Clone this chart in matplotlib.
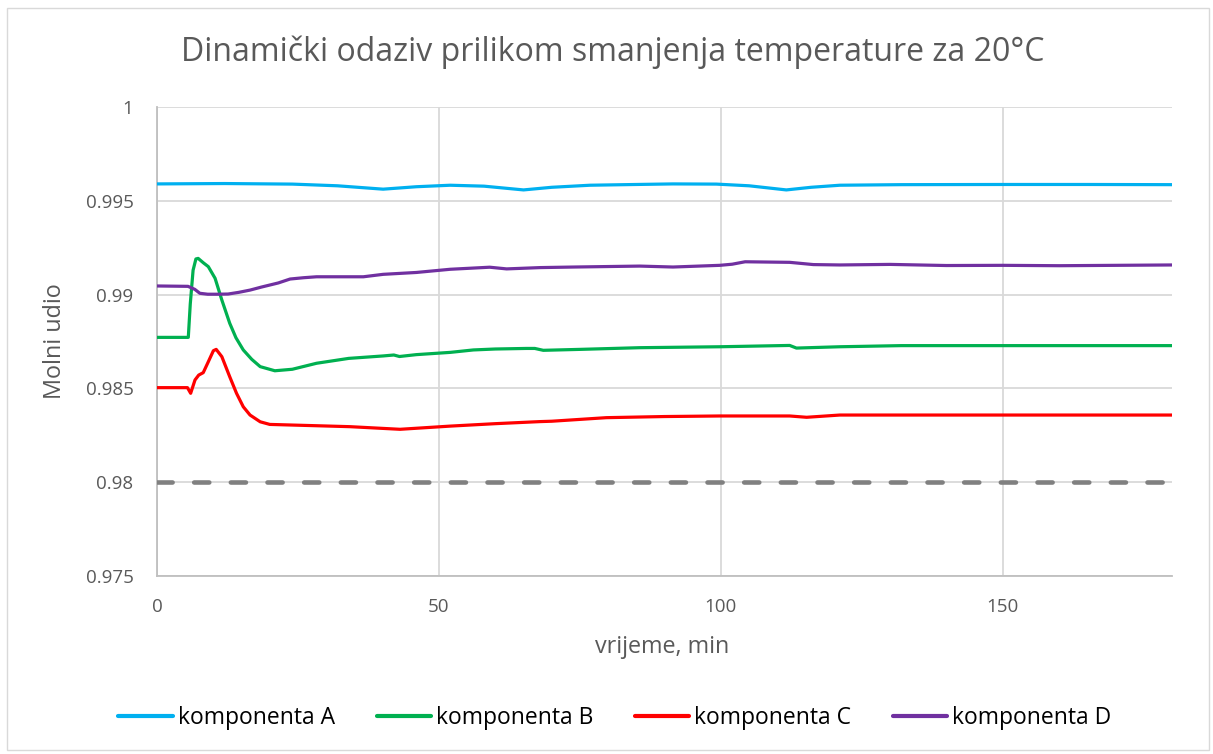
import matplotlib
matplotlib.use("Agg")
import matplotlib.pyplot as plt
from matplotlib.patches import Rectangle

plt.rcParams['font.family'] = ['Open Sans', 'DejaVu Sans']

# ---- data ----
t_A = [0, 12, 24, 32, 40.1, 46, 52, 58, 65, 70, 76.8, 85, 91.5, 99.2, 105, 111.6, 116,
       121.1, 132, 150, 165, 180]
v_A = [0.99590, 0.99592, 0.99589, 0.99580, 0.99562, 0.99575, 0.99583, 0.99578, 0.99558,
       0.99572, 0.99583, 0.99587, 0.99590, 0.99589, 0.99580, 0.99558, 0.99572, 0.99583,
       0.99586, 0.99587, 0.99587, 0.99586]

t_B = [0, 5.55, 5.9, 6.4, 6.9, 7.3, 8.2, 9.1, 10.3, 11.5, 12.9, 14, 15.3, 16.8, 18.3, 20.9,
       24, 28.3, 34, 40.1, 42, 43, 46, 52, 56.1, 60, 65.5, 67, 68.5, 75, 85.6, 99.8, 112.2,
       113.4, 121.1, 132, 150, 180]
v_B = [0.98772, 0.98772, 0.98950, 0.99130, 0.99190, 0.99193, 0.99170, 0.99149, 0.99087,
       0.98971, 0.98847, 0.98770, 0.98705, 0.98655, 0.98616, 0.98594, 0.98602, 0.98634,
       0.98660, 0.98673, 0.98678, 0.98670, 0.98680, 0.98692, 0.98705, 0.98710, 0.98713,
       0.98713, 0.98703, 0.98708, 0.98717, 0.98722, 0.98729, 0.98715, 0.98722, 0.98728,
       0.98728, 0.98728]

t_C = [0, 5.4, 5.97, 6.74, 7.4, 8.2, 9.1, 10.0, 10.5, 11.5, 12.9, 14.1, 15.3, 16.5, 18.3,
       20, 28.3, 34.2, 43.1, 52, 60, 67.9, 70, 79.7, 90, 99.8, 112.2, 115.2, 121.1, 125.2,
       150, 180]
v_C = [0.98504, 0.98504, 0.98474, 0.98545, 0.98571, 0.98584, 0.98642, 0.98701, 0.98708,
       0.98669, 0.98562, 0.98474, 0.98402, 0.98358, 0.98322, 0.98308, 0.98301, 0.98296,
       0.98282, 0.98299, 0.98312, 0.98323, 0.98325, 0.98344, 0.98350, 0.98353, 0.98353,
       0.98346, 0.98358, 0.98358, 0.98358, 0.98358]

t_D = [0, 5.5, 6.7, 7.6, 9, 10.6, 12.6, 14.5, 16.5, 18.5, 20, 21.5, 23.6, 26, 28.3, 36.6,
       40.1, 46, 52, 59, 62, 68, 74, 85.6, 91.5, 99.8, 102, 104.3, 112.2, 116.4, 121.1, 130,
       140, 150, 160, 180]
v_D = [0.99046, 0.99044, 0.99028, 0.99007, 0.99002, 0.99002, 0.99003, 0.99012, 0.99024,
       0.99040, 0.99051, 0.99062, 0.99083, 0.99090, 0.99095, 0.99095, 0.99108, 0.99118,
       0.99135, 0.99146, 0.99137, 0.99144, 0.99147, 0.99152, 0.99147, 0.99156, 0.99162,
       0.99175, 0.99172, 0.99160, 0.99158, 0.99161, 0.99155, 0.99156, 0.99154, 0.99158]

limit_t = [0, 180]
limit_v = [0.98, 0.98]

series_names = ['komponenta A', 'komponenta B', 'komponenta C', 'komponenta D']
series_colors = ['#00B0F0', '#00B050', '#FF0000', '#7030A0']

x_ticks = [0, 50, 100, 150]
y_ticks = [0.975, 0.98, 0.985, 0.99, 0.995, 1.0]
y_ticklabels = ['0.975', '0.98', '0.985', '0.99', '0.995', '1']

title = 'Dinamički odaziv prilikom smanjenja temperature za 20°C'
xlabel = 'vrijeme, min'
ylabel = 'Molni udio'

# ---- figure ----
W, H = 1213, 754
fig = plt.figure(figsize=(W / 100, H / 100), dpi=100)
fig.patches.append(Rectangle((7 / W, 4 / H), (W - 11) / W, (H - 12) / H,
                             transform=fig.transFigure, fill=False,
                             edgecolor='#D9D9D9', linewidth=1.0))

ax = fig.add_axes([157 / W, 1 - 576 / H, (1172 - 157) / W, (576 - 107) / H])

txt = '#595959'
grid_c = '#D9D9D9'

ax.plot(limit_t, limit_v, color='#808080', lw=3.3, dashes=(3.3, 4.7),
        dash_capstyle='round', zorder=3)
for t, v, name, c in zip([t_A, t_B, t_C, t_D], [v_A, v_B, v_C, v_D],
                         series_names, series_colors):
    ax.plot(t, v, color=c, lw=2.3, label=name, zorder=4,
            solid_joinstyle='round', solid_capstyle='butt')

ax.set_xlim(0, 180)
ax.set_ylim(0.975, 1.0)
ax.set_xticks(x_ticks)
ax.set_xticklabels([str(x) for x in x_ticks])
ax.set_yticks(y_ticks)
ax.set_yticklabels(y_ticklabels)
ax.tick_params(axis='both', length=0, labelsize=13.5, colors=txt)
ax.tick_params(axis='x', pad=16)
ax.tick_params(axis='y', pad=17)

ax.grid(True, color=grid_c, lw=1.3, zorder=0)
ax.set_axisbelow(True)
for s in ['top', 'right']:
    ax.spines[s].set_visible(False)
for s in ['left', 'bottom']:
    ax.spines[s].set_color('#BFBFBF')
    ax.spines[s].set_linewidth(1.3)

ax.set_xlabel(xlabel, fontsize=16.8, color=txt)
ax.xaxis.set_label_coords((662 - 157) / (1172 - 157), -(647 - 576) / (576 - 107))
ax.xaxis.label.set_va('center')
ax.set_ylabel(ylabel, fontsize=16.8, color=txt)
ax.yaxis.set_label_coords(-(157 - 55) / (1172 - 157), (576 - 341) / (576 - 107))
ax.yaxis.label.set_va('center')

fig.text(613 / W, 1 - 52 / H, title, fontsize=23, color=txt, ha='center', va='center')

leg = fig.legend(loc='center', bbox_to_anchor=(615 / W, 1 - 718 / H), ncol=4,
                 frameon=False, fontsize=16.5, handlelength=2.36, handletextpad=0.22,
                 columnspacing=1.83)
for tx in leg.get_texts():
    tx.set_color('#000000')
for h in leg.get_lines():
    h.set_linewidth(3)
    h.set_solid_capstyle('round')

fig.savefig('out.png', dpi=100)
